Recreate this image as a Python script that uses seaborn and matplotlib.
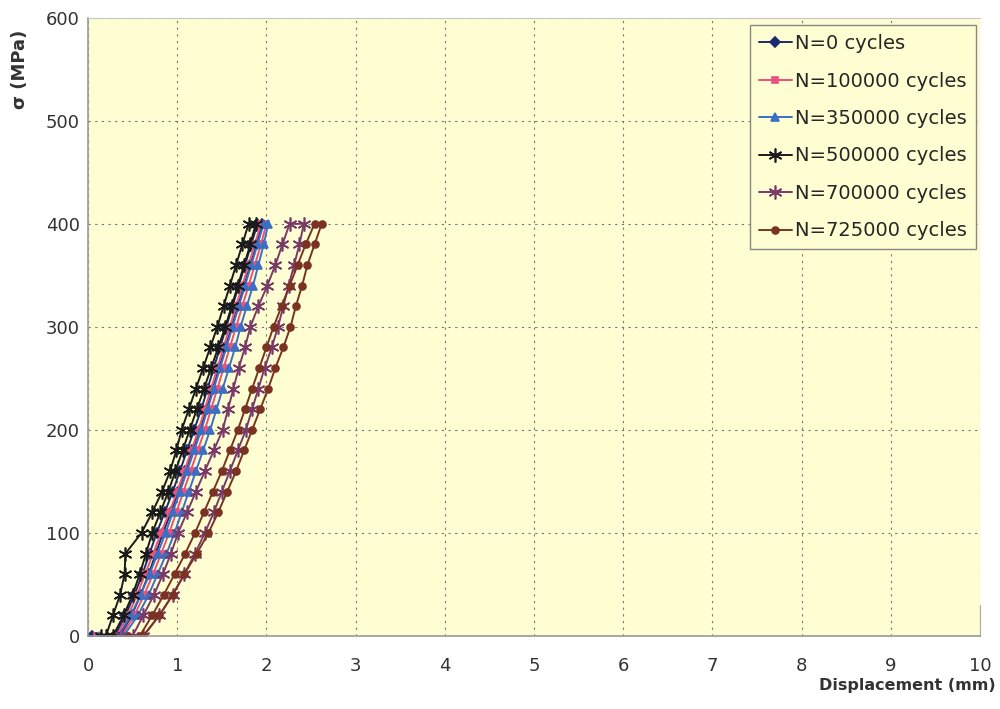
import numpy as np
import pandas as pd
import matplotlib
matplotlib.use("Agg")
import matplotlib.pyplot as plt
from matplotlib.ticker import MultipleLocator
import seaborn as sns

# stress levels (MPa) shared by all branches
stress = [0, 20, 40, 60, 80, 100, 120, 140, 160, 180, 200,
          220, 240, 260, 280, 300, 320, 340, 360, 380, 400]

labels = ["N=0 cycles", "N=100000 cycles", "N=350000 cycles",
          "N=500000 cycles", "N=700000 cycles", "N=725000 cycles"]

# displacement where the curve starts on the zero-stress line
start_x = [0.05, 0.10, 0.12, 0.15, 0.38, 0.45]

# loading branch, displacement (mm) at each stress level
load_x = [
    [0.30, 0.42, 0.52, 0.61, 0.69, 0.77, 0.86, 0.95, 1.03, 1.11, 1.19,
     1.27, 1.34, 1.41, 1.48, 1.55, 1.62, 1.69, 1.76, 1.83, 1.90],
    [0.32, 0.45, 0.55, 0.64, 0.73, 0.82, 0.91, 1.00, 1.08, 1.16, 1.24,
     1.31, 1.38, 1.45, 1.52, 1.59, 1.66, 1.73, 1.80, 1.87, 1.94],
    [0.34, 0.48, 0.59, 0.69, 0.78, 0.87, 0.95, 1.03, 1.11, 1.19, 1.27,
     1.34, 1.41, 1.48, 1.55, 1.62, 1.69, 1.76, 1.83, 1.90, 1.97],
    [0.20, 0.28, 0.36, 0.41, 0.42, 0.60, 0.72, 0.83, 0.92, 0.99, 1.05,
     1.13, 1.21, 1.29, 1.37, 1.45, 1.52, 1.59, 1.66, 1.73, 1.80],
    [0.50, 0.62, 0.74, 0.84, 0.93, 1.01, 1.11, 1.21, 1.31, 1.41, 1.51,
     1.57, 1.63, 1.69, 1.76, 1.82, 1.91, 2.01, 2.10, 2.18, 2.26],
    [0.58, 0.72, 0.85, 0.97, 1.09, 1.20, 1.30, 1.40, 1.50, 1.59, 1.68,
     1.76, 1.84, 1.92, 2.00, 2.08, 2.17, 2.26, 2.35, 2.44, 2.54],
]

# unloading branch, displacement (mm) at each stress level
unload_x = [
    [0.36, 0.49, 0.59, 0.68, 0.76, 0.84, 0.93, 1.01, 1.09, 1.17, 1.25,
     1.33, 1.40, 1.47, 1.54, 1.61, 1.68, 1.75, 1.82, 1.89, 1.95],
    [0.38, 0.52, 0.63, 0.73, 0.82, 0.91, 0.99, 1.07, 1.15, 1.23, 1.31,
     1.38, 1.45, 1.52, 1.59, 1.66, 1.73, 1.80, 1.87, 1.94, 2.00],
    [0.40, 0.56, 0.68, 0.78, 0.88, 0.97, 1.05, 1.13, 1.21, 1.29, 1.37,
     1.44, 1.51, 1.58, 1.65, 1.71, 1.78, 1.85, 1.91, 1.97, 2.02],
    [0.28, 0.40, 0.50, 0.58, 0.65, 0.72, 0.81, 0.90, 0.98, 1.06, 1.14,
     1.22, 1.30, 1.38, 1.46, 1.54, 1.61, 1.68, 1.75, 1.82, 1.88],
    [0.62, 0.80, 0.95, 1.08, 1.20, 1.31, 1.41, 1.50, 1.59, 1.68, 1.77,
     1.84, 1.91, 1.98, 2.06, 2.13, 2.19, 2.25, 2.31, 2.37, 2.42],
    [0.62, 0.80, 0.95, 1.08, 1.22, 1.35, 1.46, 1.56, 1.66, 1.75, 1.84,
     1.93, 2.02, 2.10, 2.19, 2.27, 2.33, 2.40, 2.46, 2.54, 2.62],
]

colors = ["#1c2a6e", "#e8527c", "#3a6fc4", "#1a1a1a", "#7a3a68", "#7a3322"]
markers = ["D", "s", "^", (6, 2, 0), (6, 2, 0), "o"]
msizes = [5, 5, 6, 10, 10, 5]

# one path per series: start on zero line, load up, unload back down
rows = []
for i, lab in enumerate(labels):
    xs = [start_x[i]] + load_x[i] + unload_x[i][::-1]
    ys = [0] + stress + stress[::-1]
    for k, (x, y) in enumerate(zip(xs, ys)):
        rows.append({"series": lab, "step": k, "disp": x, "stress": y})
df = pd.DataFrame(rows)

sns.set_style("white")
plt.rcParams["font.family"] = ["DejaVu Sans"]

fig = plt.figure(figsize=(10, 7.09), dpi=100)
ax = fig.add_axes([0.088, 0.103, 0.892, 0.872])
ax.set_facecolor("#fefed2")

for i, lab in enumerate(labels):
    sub = df[df["series"] == lab]
    sns.lineplot(data=sub, x="disp", y="stress", sort=False, estimator=None,
                 color=colors[i], marker=markers[i], markersize=msizes[i],
                 markeredgecolor=colors[i], markeredgewidth=1.2,
                 linewidth=1.4, label=lab, ax=ax)

ax.set_xlim(0, 10)
ax.set_ylim(0, 600)
ax.xaxis.set_major_locator(MultipleLocator(1))
ax.xaxis.set_minor_locator(MultipleLocator(0.2))
ax.yaxis.set_major_locator(MultipleLocator(100))
ax.yaxis.set_minor_locator(MultipleLocator(20))
ax.tick_params(axis="both", which="major", direction="out", length=4,
               color="#999999", labelsize=13, labelcolor="#333333")
ax.tick_params(axis="x", which="major", pad=11)
ax.tick_params(axis="y", which="major", pad=2)
ax.tick_params(axis="both", which="minor", direction="in", length=3,
               color="#aaaaaa")
ax.grid(True, which="major", linestyle=(0, (2, 4)), color="#777777",
        linewidth=0.8)

for side in ["left", "bottom"]:
    ax.spines[side].set_color("#999999")
    ax.spines[side].set_linewidth(1.2)
ax.spines["top"].set_color("#c8c8c8")
ax.spines["right"].set_color("#aaaaaa")
ax.spines["right"].set_bounds(0, 30)

ax.set_xlabel("Displacement (mm)", fontsize=11.5, fontweight="bold",
              color="#333333", loc="right")
ax.xaxis.set_label_coords(1.017, -0.068)
ax.set_ylabel("σ (MPa)", fontsize=13, fontweight="bold",
              color="#333333", loc="top")
ax.yaxis.set_label_coords(-0.066, 0.981)

leg = ax.legend(loc="upper right", fontsize=14, frameon=True, fancybox=False,
                edgecolor="#888888", facecolor="#fefed2", framealpha=1,
                handlelength=1.7, handletextpad=0.2, borderpad=0.45,
                labelspacing=0.95, borderaxespad=0.2,
                bbox_to_anchor=(1.0, 0.994))
leg.get_frame().set_linewidth(1.0)

fig.savefig("out.png", dpi=100, facecolor="white")
